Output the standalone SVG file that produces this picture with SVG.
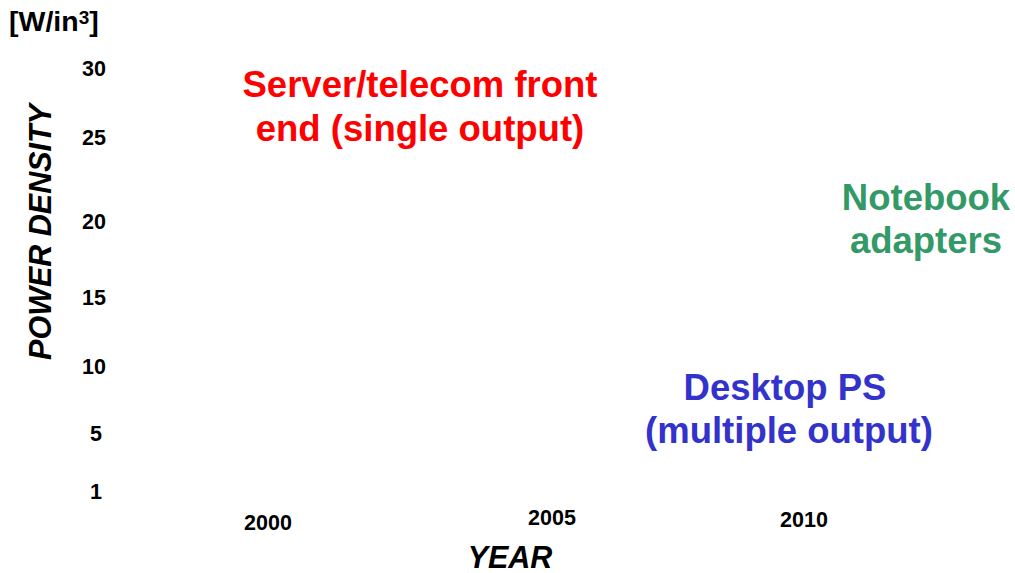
<svg xmlns="http://www.w3.org/2000/svg" width="1015" height="573" viewBox="0 0 1015 573">
<style>
text{font-family:"Liberation Sans",Arial,sans-serif;font-weight:bold}
.tick{font-size:21.5px;fill:#000;text-anchor:middle}
.axis{font-size:30.5px;font-style:italic;fill:#000;text-anchor:middle}
.lbl{font-size:36.5px;text-anchor:middle}
</style>
<rect width="1015" height="573" fill="#fff"/>
<g id="unit"><text x="9" y="31" font-size="28.5">[W/in<tspan font-size="19" dy="-7">3</tspan><tspan dy="7">]</tspan></text></g>
<g id="y-axis-label"><text class="axis" transform="translate(51,232) rotate(-90)">POWER DENSITY</text></g>
<g id="y-ticks">
<text class="tick" x="94" y="76">30</text>
<text class="tick" x="94" y="145">25</text>
<text class="tick" x="94" y="229">20</text>
<text class="tick" x="94" y="305">15</text>
<text class="tick" x="94" y="374">10</text>
<text class="tick" x="96" y="441">5</text>
<text class="tick" x="96" y="499">1</text>
</g>
<g id="x-ticks">
<text class="tick" x="268" y="530">2000</text>
<text class="tick" x="552" y="525">2005</text>
<text class="tick" x="804" y="527">2010</text>
</g>
<g id="x-axis-label"><text class="axis" x="510" y="568">YEAR</text></g>
<g id="server" fill="#ff0000">
<text class="lbl" x="420" y="97">Server/telecom front</text>
<text class="lbl" x="420" y="141">end (single output)</text>
</g>
<g id="notebook" fill="#339966">
<text class="lbl" x="926" y="210">Notebook</text>
<text class="lbl" x="926" y="253">adapters</text>
</g>
<g id="desktop" fill="#3333cc">
<text class="lbl" x="785" y="400">Desktop PS</text>
<text class="lbl" x="789" y="443">(multiple output)</text>
</g>
<g id="connectors"/>
</svg>
